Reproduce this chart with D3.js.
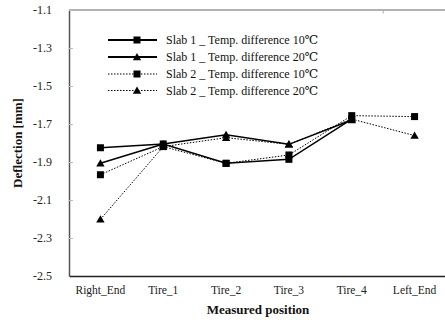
<!DOCTYPE html>
<html><head><meta charset="utf-8">
<script src="https://cdn.jsdelivr.net/npm/d3@7"></script>
<style>body{margin:0;background:#fff}svg{display:block}svg text{font-family:'Liberation Serif','Times New Roman','Tinos','DejaVu Serif',serif !important}</style>
</head><body><svg id="c" width="445" height="325"></svg>
<script>
const categories = ["Right_End","Tire_1","Tire_2","Tire_3","Tire_4","Left_End"];
const slab1_10 = [-1.825,-1.805,-1.907,-1.886,-1.674,null];
const slab1_20 = [-1.907,-1.805,-1.756,-1.807,-1.679,null];
const slab2_10 = [-1.967,-1.819,-1.907,-1.863,-1.656,-1.661];
const slab2_20 = [-2.202,-1.819,-1.772,-1.807,-1.674,-1.761];
const yTicks = [-1.1,-1.3,-1.5,-1.7,-1.9,-2.1,-2.3,-2.5];
const seriesNames = ["Slab 1 _ Temp. difference 10\u2103","Slab 1 _ Temp. difference 20\u2103","Slab 2 _ Temp. difference 10\u2103","Slab 2 _ Temp. difference 20\u2103"];

const series = [
  {name:seriesNames[0], values:slab1_10, marker:"square", dash:null},
  {name:seriesNames[1], values:slab1_20, marker:"triangle", dash:null},
  {name:seriesNames[2], values:slab2_10, marker:"square", dash:"1.5,1.5"},
  {name:seriesNames[3], values:slab2_20, marker:"triangle", dash:"1.5,1.5"}
];

const svg = d3.select("#c");
const L=69, R=446, T=10, B=276;
const x = d3.scaleBand().domain(categories).range([L,R]);
const y = d3.scaleLinear().domain([-2.5,-1.1]).range([B,T]);
const FF = "'Liberation Serif','Times New Roman','Tinos','DejaVu Serif',serif";

svg.append("line").attr("x1",L).attr("x2",445).attr("y1",T).attr("y2",T).attr("stroke","#999").attr("stroke-width",1.5);
svg.append("line").attr("x1",x("Left_End")).attr("x2",x("Left_End")).attr("y1",T).attr("y2",T+3.5).attr("stroke","#aaa").attr("stroke-width",1);

const ya = svg.append("g").attr("transform",`translate(${L},0)`)
  .call(d3.axisLeft(y).tickValues(yTicks).tickFormat(d=>d.toFixed(1)).tickSizeInner(-4).tickSizeOuter(0).tickPadding(17));
ya.attr("font-family",FF);
ya.select(".domain").attr("stroke","#555").attr("stroke-width",1.5);
ya.selectAll(".tick line").attr("stroke","#bbb");
ya.selectAll(".tick text").attr("font-size","12px").attr("fill","#222");

const xa = svg.append("g").attr("transform",`translate(0,${B})`)
  .call(d3.axisBottom(x).tickSize(0).tickPadding(10));
xa.attr("font-family",FF);
xa.select(".domain").attr("stroke","#222").attr("stroke-width",1.5);
xa.selectAll(".tick text").attr("font-size","11.5px").attr("fill","#222");

svg.append("text").attr("x",258).attr("y",314).attr("text-anchor","middle").attr("font-size","13px").attr("font-weight","bold").attr("fill","#111").text("Measured position");
svg.append("text").attr("transform","translate(22,143) rotate(-90)").attr("text-anchor","middle").attr("font-size","13px").attr("font-weight","bold").attr("fill","#111").text("Deflection [mm]");

const cx = c => x(c)+x.bandwidth()/2;
const tri = d3.symbol().type(d3.symbolTriangle).size(30);

function drawMarker(g, type, px, py){
  if(type==="square") g.append("rect").attr("x",px-3.5).attr("y",py-3.5).attr("width",7).attr("height",7).attr("fill","#000");
  else g.append("path").attr("d",tri()).attr("transform",`translate(${px},${py+0.8})`).attr("fill","#000");
}

const line = d3.line().defined(d=>d.v!=null).x(d=>cx(d.c)).y(d=>y(d.v));
series.forEach(s=>{
  const pts = categories.map((c,i)=>({c, v:s.values[i]}));
  svg.append("path").datum(pts).attr("d",line).attr("fill","none").attr("stroke","#000")
    .attr("stroke-width", s.dash?1:1.5).attr("stroke-dasharray", s.dash);
  const g = svg.append("g");
  pts.filter(d=>d.v!=null).forEach(d=>drawMarker(g,s.marker,cx(d.c),y(d.v)));
});

const legY = [40,57,74,90.5];
series.forEach((s,i)=>{
  const g = svg.append("g");
  g.append("line").attr("x1",108).attr("x2",157).attr("y1",legY[i]).attr("y2",legY[i]).attr("stroke","#000")
    .attr("stroke-width", s.dash?1:1.8).attr("stroke-dasharray", s.dash);
  drawMarker(g, s.marker, 137, legY[i]);
  g.append("text").attr("x",166).attr("y",legY[i]+4).attr("font-size","12px").attr("fill","#111").text(s.name);
});
</script></body></html>
